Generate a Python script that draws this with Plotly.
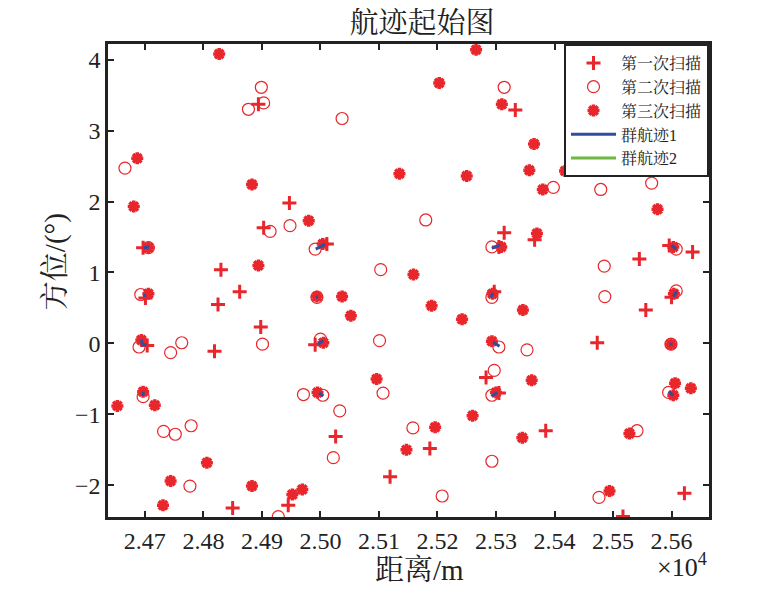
import plotly.graph_objects as go

# 第一次扫描 (距离 m, 方位 °)
scan1_x = [24894, 24947, 24903, 24697, 24830, 25011, 25305, 25314, 25333, 25523,
           25366, 25545, 25596, 25636, 25515, 24701, 24862, 24825, 24898, 24704,
           24819, 24850, 24945, 25297, 24991, 25283, 25026, 25187, 25119, 25600,
           25556, 25473, 25385, 25622, 25517, 25305]
scan1_y = [3.37, 1.98, 1.63, 1.35, 1.04, 1.40, 1.36, 1.56, 3.29, 2.45,
           1.46, 1.19, 1.38, 1.29, 4.21, 0.64, 0.73, 0.55, 0.23, -0.03,
           -0.11, -2.32, -2.28, 0.73, -0.02, -0.48, -1.31, -1.48, -1.88, 0.65,
           0.47, 0.01, -1.23, -2.11, -2.44, -0.70]

# 第二次扫描
scan2_x = [24899, 24903, 24877, 24666, 24948, 24914, 24706, 25037, 25314, 25180,
           24991, 25293, 25103, 25398, 25479, 25566, 25485, 25608, 24693, 24690,
           24763, 24744, 24901, 24697, 24971, 24732, 24752, 24779, 24777, 24928,
           24994, 25293, 25000, 25101, 25305, 25297, 25107, 25004, 25293, 25033,
           25158, 25022, 25293, 25208, 25486, 25608, 25599, 25353, 25595, 25541,
           25476]
scan2_y = [3.61, 3.39, 3.30, 2.47, 1.66, 1.58, 1.35, 3.17, 3.61, 1.74,
           1.33, 1.36, 1.04, 2.20, 2.17, 2.26, 1.09, 1.33, 0.69, -0.05,
           0.01, -0.13, -0.01, -0.75, -0.72, -1.24, -1.28, -1.16, -2.01, -2.44,
           0.65, 0.65, 0.06, 0.04, -0.05, -0.38, -0.70, -0.73, -0.73, -0.95,
           -1.19, -1.61, -1.66, -2.15, 0.66, 0.74, -0.01, -0.09, -0.69, -1.23,
           -2.17]

# 第三次扫描
scan3_x = [24827, 24687, 24883, 24681, 24980, 24706, 24894, 25266, 25203, 25310,
           25135, 25250, 25004, 25159, 25365, 25357, 25418, 25380, 25576, 25309,
           25370, 25603, 24706, 24694, 24697, 24653, 24717, 24806, 24744, 24883,
           24731, 24952, 24969, 24994, 25037, 25052, 25190, 25242, 25294, 25005,
           25293, 25096, 24995, 25300, 25260, 25196, 25147, 25346, 25599, 25606,
           25603, 25633, 25361, 25345, 25528, 25494, 25604]
scan3_y = [4.08, 2.61, 2.24, 1.93, 1.73, 1.35, 1.10, 4.14, 3.67, 3.37,
           2.39, 2.36, 1.40, 0.97, 2.81, 2.44, 2.43, 2.17, 1.89, 1.36,
           1.55, 1.36, 0.70, 0.05, -0.68, -0.88, -0.87, -1.68, -1.94, -2.01,
           -2.28, -2.13, -2.06, 0.66, 0.66, 0.39, 0.53, 0.34, 0.70, 0.01,
           0.03, -0.50, -0.69, -0.69, -1.02, -1.18, -1.50, 0.47, -0.01, -0.56,
           -0.73, -0.63, -0.52, -1.33, -1.27, -2.08, 0.70]

# 群航迹1: 每条航迹的点
tracks1_x = [[24698, 24707], [24697, 24702], [24694, 24696, 24703], [24697, 24697],
             [24992, 25008], [24992, 24996], [24996, 25005], [24998, 25005],
             [25293, 25307], [25291, 25295], [25295, 25306], [25293, 25302],
             [25600, 25608], [25603, 25609], [25599, 25599], [25595, 25603]]
tracks1_y = [[1.35, 1.36], [0.67, 0.68], [0.05, -0.02, -0.02], [-0.68, -0.74],
             [1.33, 1.40], [0.65, 0.66], [-0.01, 0.04], [-0.70, -0.74],
             [1.34, 1.39], [0.65, 0.71], [0.02, -0.04], [-0.74, -0.69],
             [1.38, 1.33], [0.66, 0.74], [0.01, -0.03], [-0.68, -0.73]]

# 群航迹2 (图中未见)
tracks2_x = []
tracks2_y = []

x_ticks = [24700, 24800, 24900, 25000, 25100, 25200, 25300, 25400, 25500, 25600]
x_ticktext = ["2.47", "2.48", "2.49", "2.50", "2.51", "2.52", "2.53", "2.54", "2.55", "2.56"]
y_ticks = [-2, -1, 0, 1, 2, 3, 4]

RED = "#e8262b"
FONT = "Liberation Serif, Noto Serif CJK SC, Noto Sans CJK SC, serif"


def join_tracks(tracks):
    out = []
    for t in tracks:
        out += list(t) + [None]
    return out if out else [None]


fig = go.Figure()

fig.add_trace(go.Scatter(
    x=scan1_x, y=scan1_y, mode="markers", name="第一次扫描",
    marker=dict(symbol="cross-thin", size=10, color=RED,
                line=dict(color=RED, width=3))))

fig.add_trace(go.Scatter(
    x=scan2_x, y=scan2_y, mode="markers", name="第二次扫描",
    marker=dict(symbol="circle-open", size=12, color=RED,
                line=dict(color=RED, width=1.2))))

fig.add_trace(go.Scatter(
    x=scan3_x, y=scan3_y, mode="markers", name="第三次扫描",
    marker=dict(symbol="asterisk-open", size=10, color=RED,
                line=dict(color=RED, width=3.5))))

fig.add_trace(go.Scatter(
    x=join_tracks(tracks1_x), y=join_tracks(tracks1_y), mode="lines",
    name="群航迹1", line=dict(color="#2e4f9e", width=3)))

fig.add_trace(go.Scatter(
    x=join_tracks(tracks2_x), y=join_tracks(tracks2_y), mode="lines",
    name="群航迹2", line=dict(color="#6cb840", width=3)))

# 页面默认有 8px 边距, 图幅相应缩小
fig.update_layout(
    width=757, height=591,
    paper_bgcolor="white", plot_bgcolor="white",
    margin=dict(l=100, r=56, t=36, b=82),
    font=dict(family=FONT, color="#222222", size=24),
    title=dict(text="航迹起始图", x=0.547, xanchor="center", y=0.975,
               yanchor="middle", font=dict(size=29, family=FONT)),
    showlegend=True,
    legend=dict(x=1, y=1, xanchor="right", yanchor="top",
                bgcolor="white", bordercolor="#222222", borderwidth=2,
                font=dict(size=16, family=FONT), tracegroupgap=0,
                itemwidth=45),
    xaxis=dict(range=[24637, 25664], tickvals=x_ticks, ticktext=x_ticktext,
               ticks="inside", ticklen=6, tickwidth=2, tickcolor="#222222",
               showline=True, linewidth=2.5, linecolor="#222222", mirror="ticks",
               showgrid=False, zeroline=False),
    yaxis=dict(range=[-2.446, 4.22], tickvals=y_ticks,
               ticks="inside", ticklen=6, tickwidth=2, tickcolor="#222222",
               showline=True, linewidth=2.5, linecolor="#222222", mirror="ticks",
               showgrid=False, zeroline=False),
)

# 坐标轴标题
fig.add_annotation(text="距离/m", xref="paper", yref="paper",
                   x=0.519, y=-0.113, xanchor="center", yanchor="middle",
                   showarrow=False, font=dict(size=29, family=FONT))
fig.add_annotation(text="方位/(°)", xref="paper", yref="paper", textangle=-90,
                   x=-0.088, y=0.539, xanchor="center", yanchor="middle",
                   showarrow=False, font=dict(size=29, family=FONT))

fig.add_annotation(text="×10<sup>4</sup>", xref="paper", yref="paper",
                   x=1.0, y=-0.102, xanchor="right", yanchor="middle",
                   showarrow=False, font=dict(size=26, family=FONT))

fig.write_html("out.html")
